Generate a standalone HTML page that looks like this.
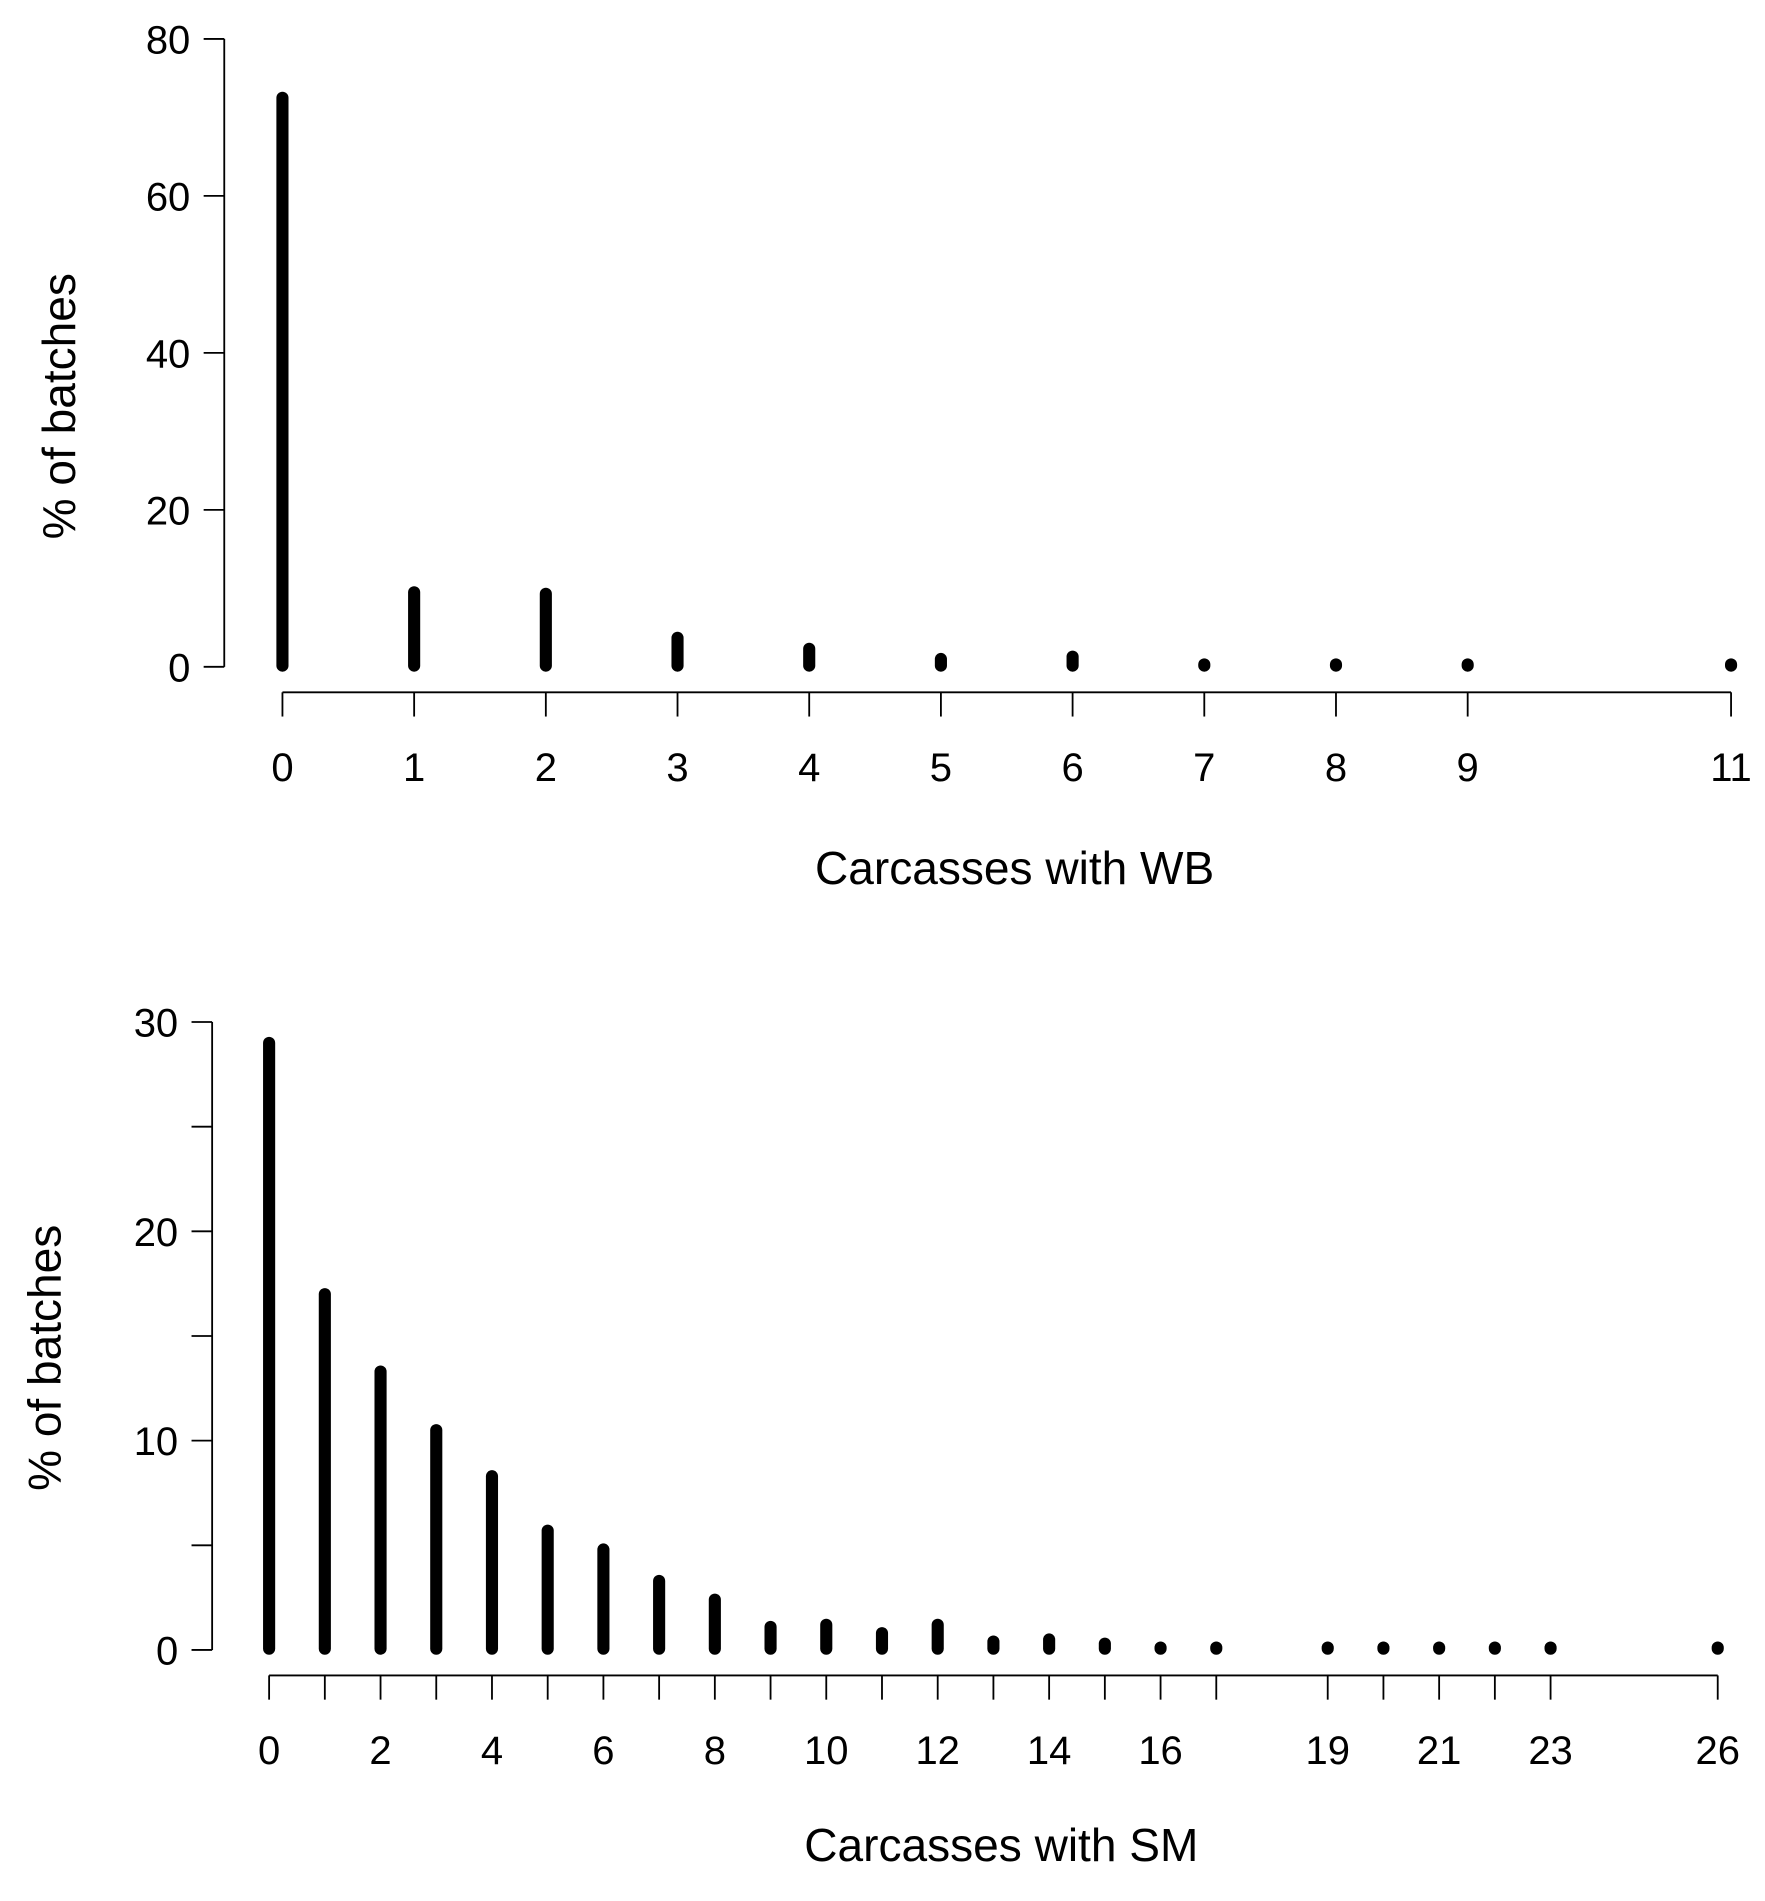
<!DOCTYPE html>
<html><head><meta charset="utf-8"><style>
html,body{margin:0;padding:0;background:#fff}
svg{display:block}
text{font-family:"Liberation Sans",sans-serif;fill:#000}
</style></head><body>
<svg id="chart" width="1765" height="1901" viewBox="0 0 1456 1568" xmlns="http://www.w3.org/2000/svg"></svg>
<script>
const wbCats=[0,1,2,3,4,5,6,7,8,9,11];
const wbVals=[72.5,9.5,9.3,3.7,2.3,1.0,1.3,0.2,0.2,0.3,0.3];
const wbYTicks=[0,20,40,60,80];
const smCats=[0,1,2,3,4,5,6,7,8,9,10,11,12,13,14,15,16,17,19,20,21,22,23,26];
const smVals=[29,17,13.3,10.5,8.3,5.7,4.8,3.3,2.4,1.1,1.2,0.8,1.2,0.4,0.5,0.3,0.1,0.1,0.1,0.1,0.1,0.1,0.1,0.1];
const smYTicks=[0,5,10,15,20,25,30];
const smYLabels=[0,10,20,30];
const smXLabels=[0,2,4,6,8,10,12,14,16,19,21,23,26];

const svg=document.getElementById('chart');
const NS='http://www.w3.org/2000/svg';
function mk(tag,attrs,parent){const e=document.createElementNS(NS,tag);for(const k in attrs)e.setAttribute(k,attrs[k]);(parent||svg).appendChild(e);return e;}

function panel(cfg){
  const g=mk('g',{});
  
  
  const y=v=>cfg.y0+(cfg.yTop-cfg.y0)*(v/cfg.yMax);
  const x=c=>cfg.x0+(cfg.x1-cfg.x0)*(c-cfg.xMin)/(cfg.xMax-cfg.xMin);
  const ya=mk('line',{x1:cfg.yAxisX,x2:cfg.yAxisX,y1:y(0),y2:y(cfg.yMax),stroke:'#000','stroke-width':1.5},g);
  
  
  cfg.yTicks.forEach(t=>{
    const tk=mk('line',{x1:cfg.yAxisX-17,x2:cfg.yAxisX,y1:y(t),y2:y(t),stroke:'#000','stroke-width':1.5},g);
    
    
  });
  cfg.yLabels.forEach(t=>{
    const tx=mk('text',{x:cfg.yAxisX-28,y:y(t)+12,'text-anchor':'end','font-size':33},g);
    tx.textContent=t;
    
    
  });
  const xa=mk('line',{x1:x(cfg.xMin),x2:x(cfg.xMax),y1:cfg.xAxisY,y2:cfg.xAxisY,stroke:'#000','stroke-width':1.5},g);
  
  
  cfg.cats.forEach(c=>{
    const tk=mk('line',{x1:x(c),x2:x(c),y1:cfg.xAxisY,y2:cfg.xAxisY+20,stroke:'#000','stroke-width':1.5},g);
    
    
  });
  cfg.xLabels.forEach(c=>{
    const tx=mk('text',{x:x(c),y:cfg.xAxisY+73,'text-anchor':'middle','font-size':33},g);
    tx.textContent=c;
    
    
  });
  cfg.cats.forEach((c,i)=>{
    const v=cfg.vals[i];
    const b=mk('line',{x1:x(c),x2:x(c),y1:y(0)-1,y2:Math.min(y(v),y(0)-2),stroke:'#000','stroke-width':10,'stroke-linecap':'round'},g);
    
    
  });
  const xt=mk('text',{x:cfg.xTitleX,y:cfg.xTitleY,'text-anchor':'middle','font-size':38},g);
  xt.textContent=cfg.xTitle;
  
  
  const yt=mk('text',{x:0,y:0,'text-anchor':'middle','font-size':38,transform:'translate('+cfg.yTitleX+','+cfg.yTitleY+') rotate(-90)'},g);
  yt.textContent='% of batches';
  
  
}

panel({name:'wb-chart',cats:wbCats,vals:wbVals,yTicks:wbYTicks,yLabels:wbYTicks,xLabels:wbCats,
  yAxisX:185,y0:550,yTop:32,yMax:80,x0:233,x1:1428,xMin:0,xMax:11,xAxisY:571,
  xTitle:'Carcasses with WB',xTitleX:837,xTitleY:729,yTitleX:62,yTitleY:335});
panel({name:'sm-chart',cats:smCats,vals:smVals,yTicks:smYTicks,yLabels:smYLabels,xLabels:smXLabels,
  yAxisX:175,y0:1361,yTop:843,yMax:30,x0:222,x1:1417,xMin:0,xMax:26,xAxisY:1382,
  xTitle:'Carcasses with SM',xTitleX:826,xTitleY:1535,yTitleX:50,yTitleY:1120});
</script>
</body></html>
